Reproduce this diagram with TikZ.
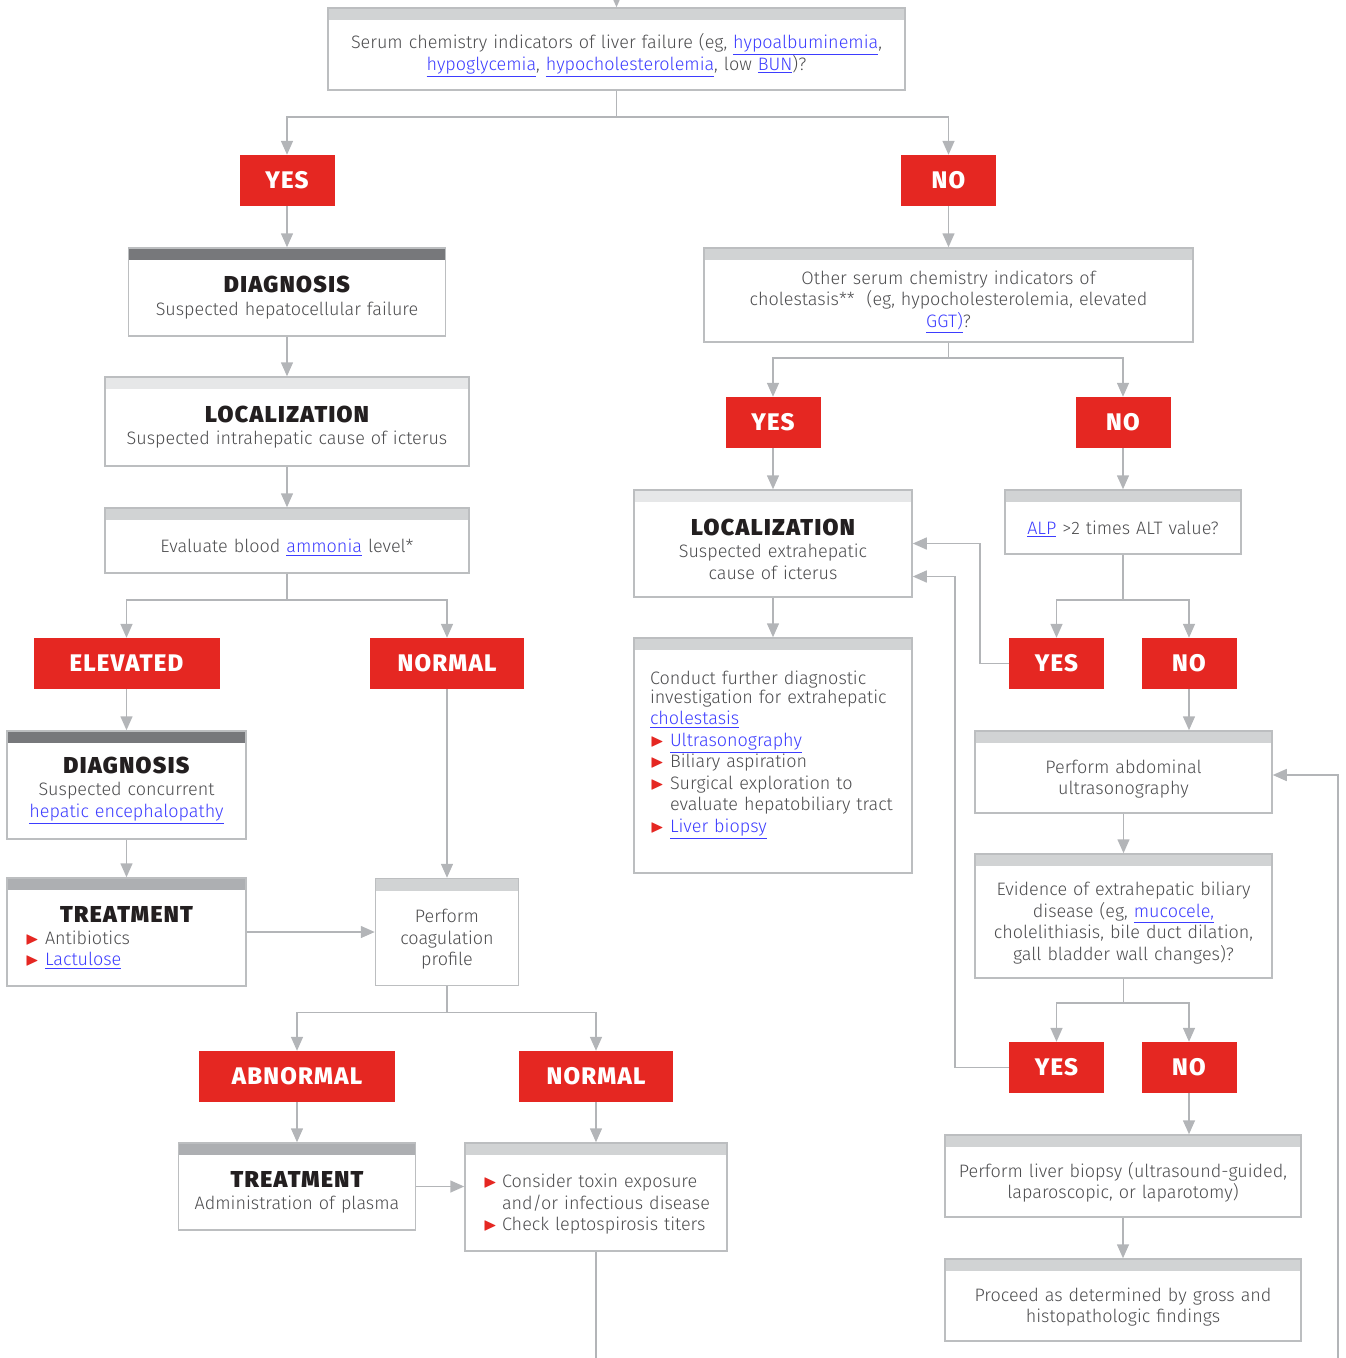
\documentclass[tikz,border=0pt]{standalone}
\usepackage{fontspec}
\usepackage{amssymb}
\usetikzlibrary{arrows.meta}

\IfFontExistsTF{Fira Sans Light}{\setmainfont{Fira Sans Light}[BoldFont={Fira Sans Bold}]}{\setmainfont{Fira Sans}}
\IfFontExistsTF{Fira Sans Black}{\newfontfamily\headfont{Fira Sans Black}[LetterSpace=6]}{\newfontfamily\headfont{Fira Sans Bold}[LetterSpace=6]}
\IfFontExistsTF{Fira Sans ExtraBold}{\newfontfamily\tagfont{Fira Sans ExtraBold}[LetterSpace=5]}{\newfontfamily\tagfont{Fira Sans Bold}[LetterSpace=5]}

\definecolor{tagred}{HTML}{E52722}
\definecolor{linkblue}{HTML}{3D3DFF}
\definecolor{bodygray}{HTML}{4D4D4F}
\definecolor{headink}{HTML}{231F20}
\definecolor{linegray}{HTML}{B3B5B8}
\definecolor{boxline}{HTML}{BCBEC0}
\definecolor{hdlight}{HTML}{D1D3D4}
\definecolor{hdpale}{HTML}{E6E7E8}
\definecolor{hdmid}{HTML}{ADAFB2}
\definecolor{hddark}{HTML}{77787B}

\newcommand{\bodysize}{\fontsize{18}{21.5}\selectfont\lineskiplimit=-20pt\lineskip=0pt}
\newcommand{\lnk}[1]{\textcolor{linkblue}{\underline{#1}}}
\newcommand{\redbul}{\makebox[20pt][l]{\textcolor{tagred}{$\blacktriangleright$}}}
\newcommand{\hd}[1]{{\headfont\fontsize{23}{24}\selectfont\color{headink}#1}}

\begin{document}
\begin{tikzpicture}[x=1pt, y=-1pt,
    box/.style={draw=boxline, line width=1.5pt, fill=white, inner xsep=0pt, inner ysep=0pt,
        align=center, text=bodygray, font=\bodysize, execute at begin node={\rule{0pt}{28pt}}},
    bar/.style={path picture={\fill[#1] ([yshift=1pt]path picture bounding box.north west)
        rectangle ([yshift=-12pt]path picture bounding box.north east);}},
    wh/.style 2 args={minimum width=#1pt, text width=#1pt, minimum height=#2pt},
    tag/.style={fill=tagred, text=white, font=\tagfont\fontsize{24}{24}\selectfont,
        inner sep=0pt, minimum height=51pt, minimum width=#1pt},
    arr/.style={draw=linegray, line width=1.5pt, -{Triangle[width=12pt,length=14pt]}},
    link/.style={draw=linegray, line width=1.5pt}]
    \useasboundingbox (0,0) rectangle (1345,1358);

    % Nodes
    \node[box, bar=hdlight, wh={577}{82}] at (616.5, 49) (serum)
        {Serum chemistry indicators of liver failure (eg, \lnk{hypoalbuminemia},\\
         \lnk{hypoglycemia}, \lnk{hypocholesterolemia}, low \lnk{BUN})?};

    \node[tag=95] at (287, 180.5) (yes1) {YES};
    \node[tag=95] at (948.5, 180.5) (no1) {NO};

    \node[box, bar=hddark, wh={317}{88}] at (287, 292) (diag1)
        {\hd{DIAGNOSIS}\\[1pt] Suspected hepatocellular failure};
    \node[box, bar=hdpale, wh={364}{89}] at (287, 421.5) (loc1)
        {\hd{LOCALIZATION}\\[1pt] Suspected intrahepatic cause of icterus};
    \node[box, bar=hdlight, wh={364}{65}] at (287, 540.5) (ammon)
        {Evaluate blood \lnk{ammonia} level*};

    \node[tag=186] at (126.5, 663.5) (elev) {ELEVATED};
    \node[tag=154] at (447, 663.5) (norm1) {NORMAL};

    \node[box, bar=hddark, wh={239}{108}] at (126.5, 785) (diag2)
        {\hd{DIAGNOSIS}\\[1pt] Suspected concurrent\\ \lnk{hepatic encephalopathy}};
    \node[box, bar=hdmid, wh={239}{108}, text width=203pt, inner xsep=18pt, align=left] at (126.5, 932) (treat1)
        {\makebox[203pt][c]{\hd{TREATMENT}}\\ \redbul Antibiotics\\ \redbul\lnk{Lactulose}};
    \node[box, bar=hdlight, wh={143}{107}] at (447, 932) (coag)
        {Perform\\ coagulation\\ profile};

    \node[tag=196] at (297, 1076.5) (abn) {ABNORMAL};
    \node[tag=154] at (596, 1076.5) (norm2) {NORMAL};

    \node[box, bar=hdmid, wh={237}{87}] at (297, 1186.5) (treat2)
        {\hd{TREATMENT}\\[1pt] Administration of plasma};
    \node[box, bar=hdlight, wh={262}{108}, text width=226pt, inner xsep=18pt, align=left] at (596, 1197) (toxin)
        {\mbox{\makebox[19pt][l]{\textcolor{tagred}{$\blacktriangleright$}}Consider toxin exposure}\\
         \mbox{\hspace*{19pt}and/or infectious disease}\\
         \mbox{\makebox[19pt][l]{\textcolor{tagred}{$\blacktriangleright$}}Check leptospirosis titers}};

    \node[box, bar=hdlight, wh={489}{94}] at (948.5, 295) (other)
        {Other serum chemistry indicators of\\
         cholestasis**\ \ (eg, hypocholesterolemia, elevated\\ \lnk{GGT)}?};

    \node[tag=95] at (773, 422.5) (yes2) {YES};
    \node[tag=95] at (1123, 422.5) (no2) {NO};

    \node[box, bar=hdpale, wh={278}{107}] at (773, 543.5) (locr)
        {\hd{LOCALIZATION}\\[1pt] Suspected extrahepatic\\ cause of icterus};
    \node[box, bar=hdlight, wh={236}{64}] at (1123, 522) (alp)
        {\lnk{ALP} >2 times ALT value?};

    \node[tag=95] at (1056.5, 663.5) (yes3) {YES};
    \node[tag=95] at (1189, 663.5) (no3) {NO};

    \node[box, bar=hdlight, wh={278}{235}, text width=246pt, inner xsep=16pt, align=left] at (773, 755.5) (conduct)
        {Conduct further diagnostic\\[-3pt] investigation for extrahepatic\\ \lnk{cholestasis}\\
         \redbul\lnk{Ultrasonography}\\ \redbul Biliary aspiration\\ \redbul Surgical exploration to\\
         \hspace*{20pt}evaluate hepatobiliary tract\\ \redbul\lnk{Liver biopsy}\rule[-22pt]{0pt}{1pt}};

    \node[box, bar=hdlight, wh={297}{82}] at (1123.5, 772) (abd)
        {Perform abdominal\\ ultrasonography};
    \node[box, bar=hdlight, wh={297}{124}] at (1123.5, 916) (evid)
        {Evidence of extrahepatic biliary\\ disease (eg, \lnk{mucocele,}\\
         cholelithiasis, bile duct dilation,\\ gall bladder wall changes)?};

    \node[tag=95] at (1056.5, 1067.5) (yes4) {YES};
    \node[tag=95] at (1189, 1067.5) (no4) {NO};

    \node[box, bar=hdlight, wh={356}{82}] at (1123, 1176) (biopsy)
        {Perform liver biopsy (ultrasound-guided,\\ laparoscopic, or laparotomy)};
    \node[box, bar=hdlight, wh={356}{82}] at (1123, 1300) (proceed)
        {Proceed as determined by gross and\\ histopathologic findings};

    \coordinate (entry) at (616.5, -20);
    \coordinate (exit) at (596, 1375);
    \coordinate (loopin) at (1338, 1375);

    % Connectors, left side
    \draw[arr] (entry) -- (serum);
    \draw[arr] (serum.south) -- ++(0,26) -| (yes1);
    \draw[arr] (serum.south) -- ++(0,26) -| (no1);

    \draw[arr] (yes1) -- (diag1);
    \draw[arr] (diag1) -- (loc1);
    \draw[arr] (loc1) -- (ammon);

    \draw[arr] (ammon.south) -- ++(0,26) -| (elev);
    \draw[arr] (ammon.south) -- ++(0,26) -| (norm1);

    \draw[arr] (elev) -- (diag2);
    \draw[arr] (diag2) -- (treat1);
    \draw[arr] (norm1) -- (coag);
    \draw[arr] (treat1) -- (coag);

    \draw[arr] (coag.south) -- ++(0,26) -| (abn);
    \draw[arr] (coag.south) -- ++(0,26) -| (norm2);

    \draw[arr] (abn) -- (treat2);
    \draw[arr] (norm2) -- (toxin);
    \draw[arr] (treat2.east) -- (treat2.east -| toxin.west);
    \draw[link] (toxin) -- (exit);

    % Connectors, right side
    \draw[arr] (no1) -- (other);
    \draw[arr] (other.south) -- ++(0,15) -| (yes2);
    \draw[arr] (other.south) -- ++(0,15) -| (no2);

    \draw[arr] (yes2) -- (locr);
    \draw[arr] (no2) -- (alp);
    \draw[arr] (locr) -- (conduct);

    \draw[arr] (alp.south) -- ++(0,45) -| (yes3);
    \draw[arr] (alp.south) -- ++(0,45) -| (no3);
    \draw[arr] (yes3.west) -- ++(-29,0) |- (locr.east);
    \draw[arr] (no3.south) -- (no3.south |- abd.north);

    \draw[arr] (abd) -- (evid);
    \draw[arr] (evid.south) -- ++(0,24) -| (yes4);
    \draw[arr] (evid.south) -- ++(0,24) -| (no4);
    \draw[arr] (yes4.west) -- ++(-54,0) |- ([yshift=-33pt]locr.east);
    \draw[arr] (no4.south) -- (no4.south |- biopsy.north);
    \draw[arr] (biopsy) -- (proceed);
    \draw[arr] (loopin) |- ([yshift=-3pt]abd.east);
\end{tikzpicture}
\end{document}
